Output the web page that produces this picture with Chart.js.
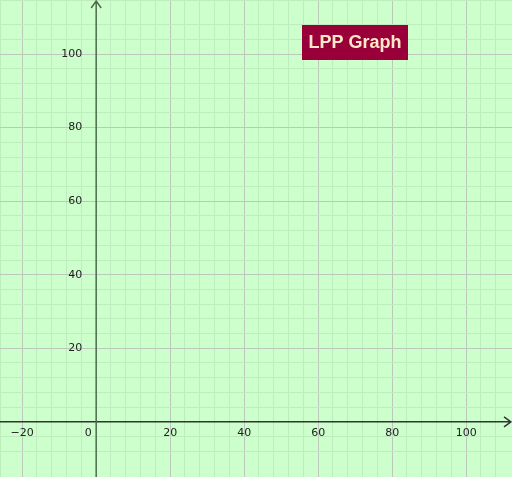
<!DOCTYPE html>
<html>
<head>
<meta charset="utf-8">
<script src="https://cdn.jsdelivr.net/npm/chart.js@4.4.0/dist/chart.umd.min.js"></script>
<style>
  html, body { margin: 0; padding: 0; background: #ccffcc; }
  #wrap { width: 512px; height: 477px; }
</style>
</head>
<body>
<div id="wrap"><canvas id="lpp"></canvas></div>
<script>
// --- data ---
const xRange = [-26, 112.4];
const yRange = [-15, 114.7];
const xTickLabels = [-20, 0, 20, 40, 60, 80, 100];
const yTickLabels = [20, 40, 60, 80, 100];
const title = 'LPP Graph';

// --- axes, labels and title box ---
const lppOverlay = {
    id: 'lppOverlay',
    afterDraw(chart) {
        const ctx = chart.ctx;
        const xs = chart.scales.x, ys = chart.scales.y;
        const x0 = xs.getPixelForValue(0), y0 = ys.getPixelForValue(0);
        const area = chart.chartArea;
        ctx.save();

        // x axis
        ctx.strokeStyle = '#333333';
        ctx.lineWidth = 1.5;
        ctx.beginPath();
        ctx.moveTo(area.left, y0);
        ctx.lineTo(area.right - 1, y0);
        ctx.moveTo(area.right - 8, y0 - 5);
        ctx.lineTo(area.right - 1, y0);
        ctx.lineTo(area.right - 8, y0 + 5);
        ctx.stroke();

        // y axis
        ctx.strokeStyle = '#4d6b4d';
        ctx.beginPath();
        ctx.moveTo(x0, area.bottom);
        ctx.lineTo(x0, area.top + 1);
        ctx.moveTo(x0 - 5, area.top + 8);
        ctx.lineTo(x0, area.top + 1);
        ctx.lineTo(x0 + 5, area.top + 8);
        ctx.stroke();

        // tick labels
        ctx.fillStyle = '#222222';
        ctx.font = '11px "DejaVu Sans", sans-serif';
        ctx.textAlign = 'center';
        ctx.textBaseline = 'top';
        xTickLabels.forEach(v => {
            const px = v === 0 ? x0 - 8 : xs.getPixelForValue(v);
            ctx.fillText(v < 0 ? '\u2212' + Math.abs(v) : String(v), px, y0 + 6);
        });
        ctx.textAlign = 'right';
        ctx.textBaseline = 'middle';
        yTickLabels.forEach(v => {
            ctx.fillText(String(v), x0 - 14, ys.getPixelForValue(v));
        });

        // title box
        ctx.fillStyle = '#99003a';
        ctx.fillRect(302, 25, 106, 35);
        ctx.fillStyle = '#ffe8c8';
        ctx.font = 'bold 18px "Liberation Sans", Arial, sans-serif';
        ctx.textAlign = 'center';
        ctx.fillText(title, 355, 43);
        ctx.restore();
    }
};

function gridColor(c) {
    const v = Math.round(c.tick.value);
    if (v === 0) return 'rgba(0,0,0,0)';
    return v % 20 === 0 ? '#bcc8bc' : '#bdedbd';
}

new Chart(document.getElementById('lpp'), {
    type: 'scatter',
    data: { datasets: [{ data: [] }] },
    options: {
        responsive: true,
        maintainAspectRatio: false,
        animation: false,
        layout: { padding: 0 },
        plugins: { legend: { display: false }, tooltip: { enabled: false } },
        scales: {
            x: {
                type: 'linear', min: xRange[0], max: xRange[1],
                ticks: { display: false, stepSize: 4 },
                grid: { color: gridColor, drawTicks: false },
                border: { display: false },
                afterFit(s) { s.height = 0; }
            },
            y: {
                type: 'linear', min: yRange[0], max: yRange[1],
                ticks: { display: false, stepSize: 4 },
                grid: { color: gridColor, drawTicks: false },
                border: { display: false },
                afterFit(s) { s.width = 0; }
            }
        }
    },
    plugins: [lppOverlay]
});
</script>
</body>
</html>
